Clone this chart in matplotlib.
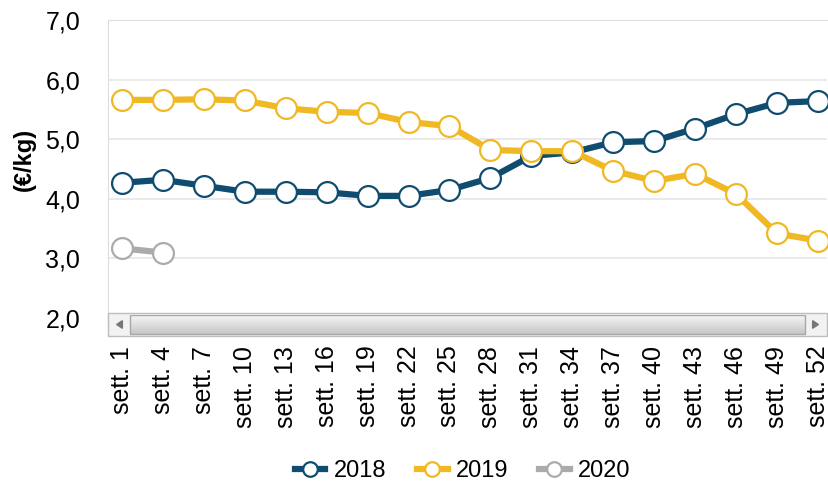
import numpy as np
import matplotlib.pyplot as plt
from matplotlib.patches import Rectangle, Polygon

plt.rcParams['font.family'] = ['Liberation Sans', 'DejaVu Sans']

# settimane
weeks = [1, 4, 7, 10, 13, 16, 19, 22, 25, 28, 31, 34, 37, 40, 43, 46, 49, 52]
week_labels = ['sett. %d' % w for w in weeks]

# prezzi (€/kg)
prezzi_2018 = [4.27, 4.32, 4.22, 4.12, 4.12, 4.11, 4.05, 4.05, 4.15, 4.35,
               4.72, 4.78, 4.95, 4.97, 5.18, 5.42, 5.61, 5.64]
prezzi_2019 = [5.66, 5.66, 5.67, 5.65, 5.52, 5.46, 5.44, 5.29, 5.22, 4.82,
               4.80, 4.80, 4.47, 4.30, 4.42, 4.08, 3.42, 3.30]
prezzi_2020 = [3.17, 3.10]

series = [('2018', prezzi_2018, '#0f4c70'),
          ('2019', prezzi_2019, '#f0b823'),
          ('2020', prezzi_2020, '#ababab')]

fig = plt.figure(figsize=(8.29, 4.88), dpi=100)
ax = fig.add_axes([108 / 829, 1 - 336 / 488, 719 / 829, 316 / 488])

x = np.arange(len(weeks))
for name, vals, col in series:
    ax.plot(x[:len(vals)], vals, '-o', color=col, lw=4.5, ms=15,
            mfc='white', mec=col, mew=1.6, label=name, zorder=3)

ax.set_xlim(-0.34, 17.22)
ax.set_ylim(1.70, 7.0)
ax.set_yticks([2, 3, 4, 5, 6, 7])
ax.set_yticklabels(['2,0', '3,0', '4,0', '5,0', '6,0', '7,0'], fontsize=18)
ax.set_xticks(x)
ax.set_xticklabels(week_labels, rotation=90, fontsize=18, va='top')
ax.tick_params(axis='both', length=0)
ax.tick_params(axis='x', pad=7)
ax.tick_params(axis='y', pad=20)
ax.grid(axis='y', color='#e6e6e6', lw=1.2)
ax.set_axisbelow(True)
for side in ['top', 'left']:
    ax.spines[side].set_color('#dddddd')
for side in ['right', 'bottom']:
    ax.spines[side].set_visible(False)

ax.set_ylabel('(€/kg)', fontsize=17, fontweight='bold')
ax.yaxis.set_label_coords(-0.10, 0.56)

# barra di scorrimento (finta)
sb_h = 23 / 316
ax.add_patch(Rectangle((0, 0), 1, sb_h, transform=ax.transAxes,
                       facecolor='#f2f2f2', edgecolor='#bdbdbd', lw=1,
                       zorder=5, clip_on=False))
grad = np.linspace(0.97, 0.78, 50).reshape(-1, 1)
ax.imshow(grad, cmap='gray', vmin=0, vmax=1, aspect='auto',
          extent=(0.030, 0.970, 0.006, sb_h - 0.006),
          transform=ax.transAxes, zorder=6)
ax.add_patch(Rectangle((0.030, 0.006), 0.940, sb_h - 0.012, transform=ax.transAxes,
                       facecolor='none', edgecolor='#a8a8a8', lw=1, zorder=7))
ax.add_patch(Polygon([[0.012, sb_h / 2], [0.020, sb_h / 2 + 0.012],
                      [0.020, sb_h / 2 - 0.012]], transform=ax.transAxes,
                     color='#777777', zorder=7))
ax.add_patch(Polygon([[0.988, sb_h / 2], [0.980, sb_h / 2 + 0.012],
                      [0.980, sb_h / 2 - 0.012]], transform=ax.transAxes,
                     color='#777777', zorder=7))

fig.legend(loc='center', bbox_to_anchor=(0.558, 0.035), ncol=3, frameon=False,
           fontsize=17, handlelength=1.3, columnspacing=1.3, handletextpad=0.35,
           markerscale=0.7)

fig.savefig('out.png', dpi=100)
